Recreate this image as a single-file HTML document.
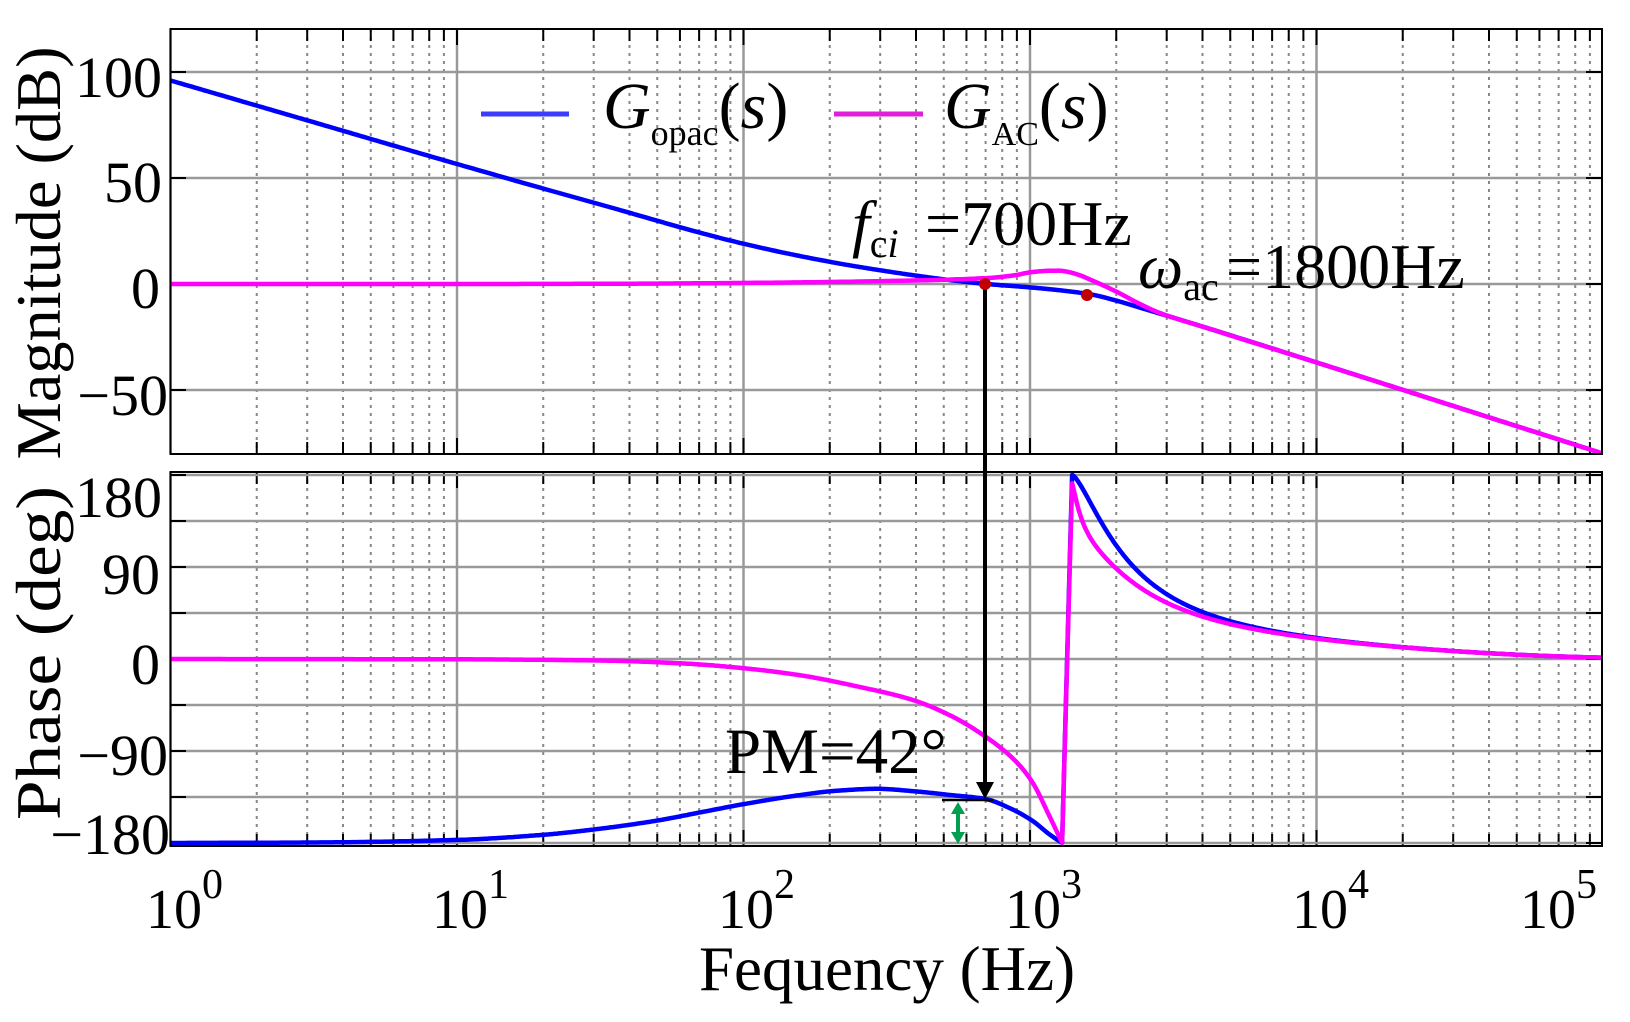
<!DOCTYPE html>
<html><head><meta charset="utf-8"><style>
html,body{margin:0;padding:0;background:#fff;}
svg{display:block;}
text{font-family:"Liberation Serif","DejaVu Serif",serif;fill:#000;}
</style></head><body>
<svg id="s" width="1630" height="1022" viewBox="0 0 1630 1022" xmlns="http://www.w3.org/2000/svg">
<defs>
<clipPath id="cm"><rect x="170.5" y="29" width="1431.5" height="425"/></clipPath>
<clipPath id="cp"><rect x="170.5" y="472" width="1431.5" height="374"/></clipPath>
</defs>
<g id="grid"></g>
<g id="curves"></g>
<rect x="170.5" y="29" width="1431.5" height="425" fill="none" stroke="#000" stroke-width="2"/>
<rect x="170.5" y="472" width="1431.5" height="374" fill="none" stroke="#000" stroke-width="2"/>
<g font-size="58" text-anchor="end">
<text x="162" y="97">100</text>
<text x="162" y="202">50</text>
<text x="160" y="308">0</text>
<text x="168" y="415">−50</text>
<text x="162" y="517">180</text>
<text x="160" y="594">90</text>
<text x="160" y="684">0</text>
<text x="168" y="775">−90</text>
<text x="170" y="854">−180</text>
</g>
<g font-size="56">
<text x="146" y="928">10<tspan font-size="42" dy="-30">0</tspan></text>
<text x="432" y="928">10<tspan font-size="42" dy="-30">1</tspan></text>
<text x="718" y="928">10<tspan font-size="42" dy="-30">2</tspan></text>
<text x="1005" y="928">10<tspan font-size="42" dy="-30">3</tspan></text>
<text x="1292" y="928">10<tspan font-size="42" dy="-30">4</tspan></text>
<text x="1520" y="928">10<tspan font-size="42" dy="-30">5</tspan></text>
</g>
<text x="887" y="990" font-size="63" text-anchor="middle">Fequency (Hz)</text>
<text transform="translate(60,253) rotate(-90)" font-size="64" text-anchor="middle" textLength="413" lengthAdjust="spacingAndGlyphs">Magnitude (dB)</text>
<text transform="translate(60,653) rotate(-90)" font-size="64" text-anchor="middle" textLength="334" lengthAdjust="spacingAndGlyphs">Phase (deg)</text>
<line x1="481" y1="114" x2="569" y2="114" stroke="#3c3cff" stroke-width="5"/>
<text x="603" y="128" font-size="66"><tspan font-style="italic">G</tspan><tspan font-size="36" dy="17">opac</tspan><tspan dy="-17">(</tspan><tspan font-style="italic">s</tspan>)</text>
<line x1="834" y1="114" x2="923" y2="114" stroke="#e020d8" stroke-width="5"/>
<text x="944" y="128" font-size="66"><tspan font-style="italic">G</tspan><tspan font-size="34" dy="17">AC</tspan><tspan dy="-17">(</tspan><tspan font-style="italic">s</tspan>)</text>
<text x="852" y="245" font-size="64"><tspan font-style="italic">f</tspan><tspan font-size="40" dy="12">c</tspan><tspan font-size="40" font-style="italic">i</tspan><tspan dy="-12" x="925">=700Hz</tspan></text>
<text x="1138" y="288" font-size="64"><tspan font-style="italic">ω</tspan><tspan font-size="40" dy="12">ac</tspan><tspan dy="-12" x="1226">=1800Hz</tspan></text>
<text x="725" y="773" font-size="65">PM=42°</text>
<g id="anno"></g>
</svg>
<script>
(function(){
var NS="http://www.w3.org/2000/svg";
function X(L){return 170.5+286.5*L;}
function YM(d){return 284-2.12*d;}
function YP(p){return 659-p*46/45;}
function el(p,tag,a){var e=document.createElementNS(NS,tag);for(var k in a)e.setAttribute(k,a[k]);p.appendChild(e);return e;}
var g=document.getElementById('grid');
for(var d=0;d<5;d++){for(var m=1;m<=9;m++){
  var L=d+Math.log10(m); var x=X(L);
  if(m==1){
    el(g,'line',{x1:x,y1:29,x2:x,y2:454,stroke:'#999','stroke-width':2.5});
    el(g,'line',{x1:x,y1:472,x2:x,y2:846,stroke:'#999','stroke-width':2.5});
  } else {
    el(g,'line',{x1:x,y1:29,x2:x,y2:454,stroke:'#888','stroke-width':2,'stroke-dasharray':'3,5'});
    el(g,'line',{x1:x,y1:472,x2:x,y2:846,stroke:'#888','stroke-width':2,'stroke-dasharray':'3,5'});
  }
  var tl=(m==1)?16:12;
  el(g,'line',{x1:x,y1:454,x2:x,y2:454-tl,stroke:'#000','stroke-width':2});
  el(g,'line',{x1:x,y1:29,x2:x,y2:29+tl,stroke:'#000','stroke-width':2});
  el(g,'line',{x1:x,y1:846,x2:x,y2:846-tl,stroke:'#000','stroke-width':2});
  el(g,'line',{x1:x,y1:472,x2:x,y2:472+tl,stroke:'#000','stroke-width':2});
}}
[100,50,0,-50].forEach(function(v){var y=YM(v);
  el(g,'line',{x1:170.5,y1:y,x2:1602,y2:y,stroke:'#999','stroke-width':2.5});
  el(g,'line',{x1:170.5,y1:y,x2:186,y2:y,stroke:'#000','stroke-width':2});
  el(g,'line',{x1:1586,y1:y,x2:1602,y2:y,stroke:'#000','stroke-width':2});});
for(var p=180;p>=-180;p-=45){var y=YP(p);
  el(g,'line',{x1:170.5,y1:y,x2:1602,y2:y,stroke:'#999','stroke-width':2.5});
  el(g,'line',{x1:170.5,y1:y,x2:186,y2:y,stroke:'#000','stroke-width':2});
  el(g,'line',{x1:1586,y1:y,x2:1602,y2:y,stroke:'#000','stroke-width':2});}
function pchip(pts,fy,n){
  var N=pts.length,xs=pts.map(function(q){return q[0];}),ys=pts.map(function(q){return q[1];});
  var h=[],dl=[],mo=[];
  for(var i=0;i<N-1;i++){h[i]=xs[i+1]-xs[i];dl[i]=(ys[i+1]-ys[i])/h[i];}
  mo[0]=dl[0];mo[N-1]=dl[N-2];
  for(var i=1;i<N-1;i++){
    if(dl[i-1]*dl[i]<=0)mo[i]=0;
    else{var w1=2*h[i]+h[i-1],w2=h[i]+2*h[i-1];mo[i]=(w1+w2)/(w1/dl[i-1]+w2/dl[i]);}
  }
  var out=[];
  for(var i=0;i<N-1;i++){for(var k=0;k<n;k++){var t=k/n,t2=t*t,t3=t2*t;
    var v=(2*t3-3*t2+1)*ys[i]+(t3-2*t2+t)*h[i]*mo[i]+(-2*t3+3*t2)*ys[i+1]+(t3-t2)*h[i]*mo[i+1];
    out.push([X(xs[i]+t*h[i]),fy(v)]);}}
  out.push([X(xs[N-1]),fy(ys[N-1])]);return out;
}
function path(seg){return 'M'+seg.map(function(q){return q[0].toFixed(1)+','+q[1].toFixed(1);}).join('L');}
var c=document.getElementById('curves');
var gm=el(c,'g',{'clip-path':'url(#cm)'});
var gp=el(c,'g',{'clip-path':'url(#cp)'});
var bm=[[0,96],[0.5,76.3],[1,56.6],[1.5,37.5],[2,19],[2.3,10.5],[2.5,6],[2.7,2.2],[2.85,0],[3,-1.6],[3.1,-2.9],[3.216,-5],[3.3,-7.8],[3.4,-11.8],[3.6,-20],[4,-37],[4.5,-58.5],[5,-80]];
var mm=[[0,0],[1,0],[1.5,0.1],[2,0.5],[2.5,1.4],[2.85,2.8],[2.95,4.2],[3.0,5.5],[3.06,6.2],[3.1,6.3],[3.13,5.8],[3.17,4.3],[3.22,1.5],[3.3,-3.5],[3.37,-8.5],[3.45,-13.5],[3.6,-20],[4,-37],[4.5,-58.5],[5,-80]];
var bp1=[[0,-180],[0.5,-179.5],[1,-177],[1.3,-172],[1.5,-166],[1.7,-158],[1.85,-150],[2,-142],[2.2,-133],[2.32,-129],[2.466,-127],[2.6,-129.5],[2.72,-133],[2.845,-137],[2.93,-146],[3.007,-158],[3.07,-172],[3.112,-180]];
var mp1=[[0,0],[1,-0.3],[1.5,-1.5],[1.8,-4.5],[2,-9],[2.2,-16],[2.4,-27],[2.59,-40],[2.72,-55],[2.845,-76],[2.95,-100],[3.007,-120],[3.07,-155],[3.112,-180]];
el(gm,'path',{d:path(pchip(bm,YM,40)),fill:'none',stroke:'#0000ff','stroke-width':4.5,'stroke-linejoin':'round'});
el(gm,'path',{d:path(pchip(mm,YM,40)),fill:'none',stroke:'#ff00ff','stroke-width':4.5,'stroke-linejoin':'round'});
var L0=3.147;
function fb(x){return 180/(1+8.84*Math.pow(x,1.42))*Math.exp(-Math.pow(x/1.6,4));}
function fm(x){var s=(1-Math.exp(-x/0.03))*Math.exp(-x/0.4);return fb(x)*(1-0.3*s)*(1-0.045*Math.exp(-x/0.01));}
var b2=[],m2=[];
for(var i=0;i<=600;i++){var x=Math.pow(i/600,2)*(5-L0);b2.push([X(L0+x),YP(fb(x))]);m2.push([X(L0+x),YP(fm(x))]);}
var b1=pchip(bp1,YP,40),m1=pchip(mp1,YP,40);
el(gp,'path',{d:path(b1.concat(b2)),fill:'none',stroke:'#0000ff','stroke-width':4.5,'stroke-linejoin':'round'});
el(gp,'path',{d:path(m1.concat(m2)),fill:'none',stroke:'#ff00ff','stroke-width':4.5,'stroke-linejoin':'round'});
var a=document.getElementById('anno');
el(a,'line',{x1:985,y1:284,x2:985,y2:784,stroke:'#000','stroke-width':4});
el(a,'polygon',{points:'976,782 994,782 985,799',fill:'#000'});
el(a,'line',{x1:942,y1:800,x2:993,y2:800,stroke:'#000','stroke-width':2.5});
el(a,'line',{x1:958,y1:810,x2:958,y2:836,stroke:'#00a050','stroke-width':4});
el(a,'polygon',{points:'951,814 965,814 958,802',fill:'#00a050'});
el(a,'polygon',{points:'951,832 965,832 958,844',fill:'#00a050'});
el(a,'circle',{cx:985,cy:284,r:6,fill:'#c00000'});
el(a,'circle',{cx:1087,cy:295,r:6,fill:'#c00000'});
})();
</script>
</body></html>
